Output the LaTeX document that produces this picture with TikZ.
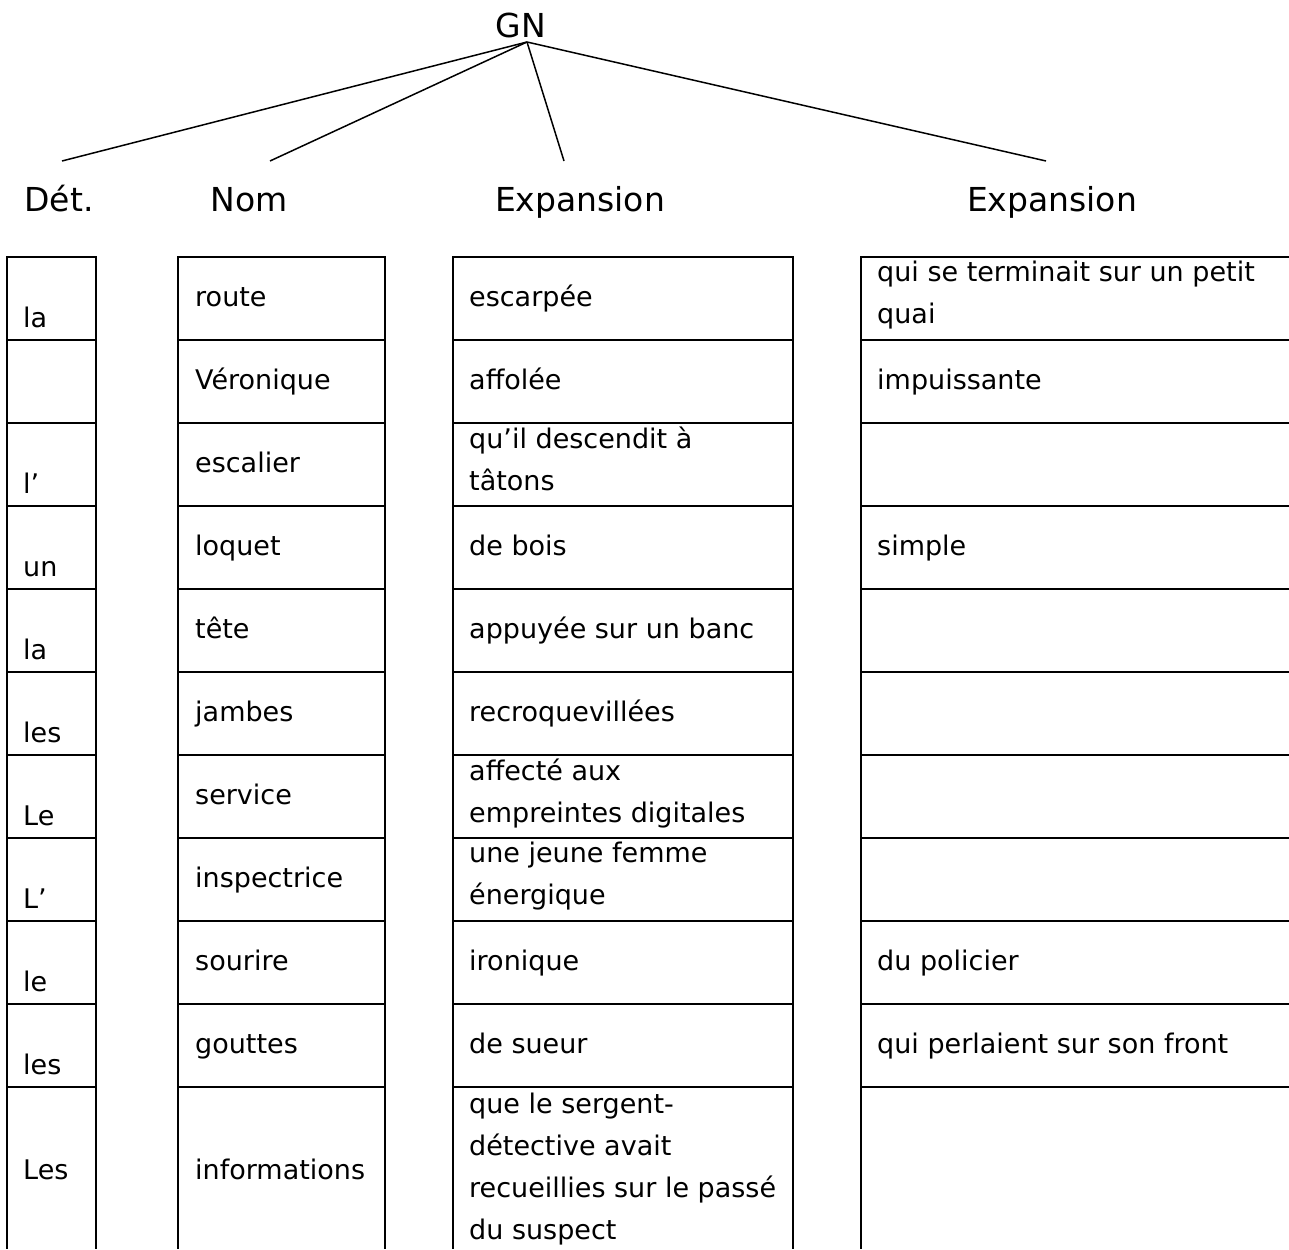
\documentclass[tikz,border=0pt]{standalone}
\usepackage{fontspec}
\setmainfont{DejaVu Sans}
\usetikzlibrary{positioning}
\tikzset{
  % Text styles
  treelabel/.style={anchor=base, inner sep=0pt, font=\fontsize{33}{40}\selectfont},
  celltext/.style={anchor=west, align=left, inner sep=0pt, font=\fontsize{27}{42}\selectfont,
    execute at begin node=\strut, execute at end node=\strut},
  % Line styles
  branch/.style={line width=1.5pt, black},
  rowrule/.style={line width=2pt, black},
  colrule/.style={line width=2.8pt, black}
}

\begin{document}
\begin{tikzpicture}[x=1pt, y=-1pt]
  \useasboundingbox (0,0) rectangle (1289,1249);

  % Tree labels
  \node[treelabel] (gn) at (521,38) {GN};
  \node[treelabel] (det) at (59,212) {Dét.};
  \node[treelabel] (nom) at (249,212) {Nom};
  \node[treelabel] (expa) at (580,212) {Expansion};
  \node[treelabel] (expb) at (1052,212) {Expansion};

  % Branches
  \foreach \n/\dx in {det/3, nom/21, expa/-16, expb/-6}
    \draw[branch] ([xshift=6pt,yshift=-4pt]gn.base) -- ([xshift=\dx pt,yshift=51pt]\n.base);

  % Table columns
  \foreach \xl/\xr in {7/96, 178/385, 453/793, 861/1289} {
    \foreach \k in {0,...,10}
      \draw[rowrule] (\xl,257+83*\k) -- (\xr,257+83*\k);
    \draw[colrule] (\xl,256) -- (\xl,1249);
  }
  \foreach \xr in {96, 385, 793}
    \draw[colrule] (\xr,256) -- (\xr,1249);

  % Rows
  \foreach \r/\dt/\nm/\ea/\eb in {
      1/{la}/{route}/{escarpée}/{qui se terminait sur un petit\\quai},
      2/{}/{Véronique}/{affolée}/{impuissante},
      3/{l’}/{escalier}/{qu’il descendit à\\tâtons}/{},
      4/{un}/{loquet}/{de bois}/{simple},
      5/{la}/{tête}/{appuyée sur un banc}/{},
      6/{les}/{jambes}/{recroquevillées}/{},
      7/{Le}/{service}/{affecté aux\\empreintes digitales}/{},
      8/{L’}/{inspectrice}/{une jeune femme\\énergique}/{},
      9/{le}/{sourire}/{ironique}/{du policier},
      10/{les}/{gouttes}/{de sueur}/{qui perlaient sur son front}} {
    \pgfmathsetmacro\yc{298.5+83*(\r-1)}
    \node[celltext] (d\r) at (23,\yc+21) {\dt};
    \node[celltext] (n\r) at (195,\yc) {\nm};
    \node[celltext] (a\r) at (469,\yc) {\ea};
    \node[celltext] (b\r) at (877,\yc) {\eb};
  }

  % Last row
  \node[celltext] (d11) at (23,1171) {Les};
  \node[celltext] (n11) at (195,1171) {informations};
  \node[celltext] (a11) at (469,1173) {que le sergent-\\détective avait\\recueillies sur le passé\\du suspect};
\end{tikzpicture}
\end{document}
